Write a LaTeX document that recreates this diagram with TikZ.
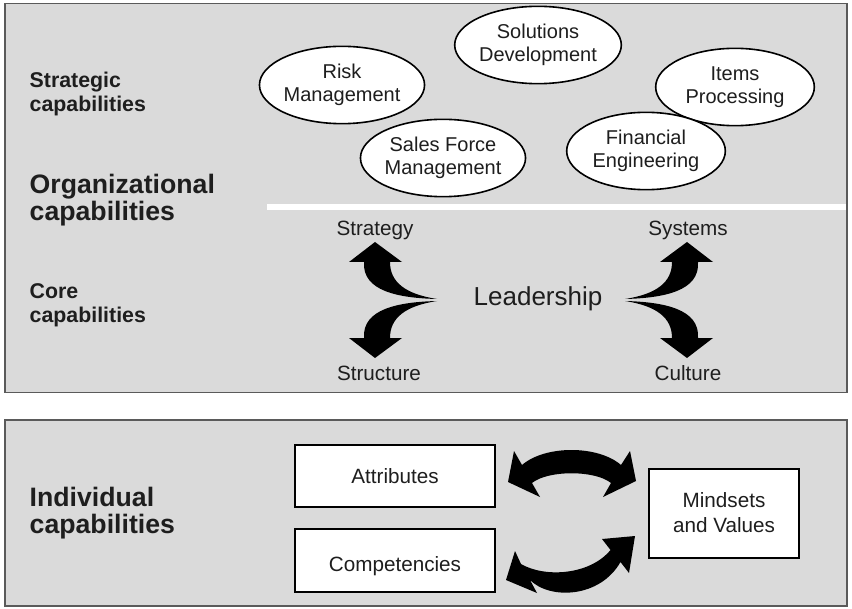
\documentclass[tikz,border=0pt]{standalone}
\usepackage{fontspec}
\setmainfont{Liberation Sans}
\usetikzlibrary{shapes.geometric,arrows.meta}
\definecolor{panel}{HTML}{DADADA}
\definecolor{panelline}{HTML}{5A5A5A}
\definecolor{ink}{HTML}{1E1E1E}
\begin{document}
\begin{tikzpicture}[x=0.75pt,y=-0.75pt,
  panelbox/.style={draw=panelline, line width=1.3pt, fill=panel, rectangle, inner sep=0pt},
  capell/.style={ellipse, draw=black, line width=1.2pt, fill=white, inner sep=0pt,
    minimum width=119pt, minimum height=58pt, align=center, text=ink,
    font=\fontsize{15}{17.25}\selectfont},
  whitebox/.style={rectangle, draw=black, line width=1.5pt, fill=white, inner sep=0pt,
    align=center, text=ink, font=\fontsize{15.5}{18.75}\selectfont},
  boxtext/.style={text=ink, font=\fontsize{15.5}{18.75}\selectfont},
  sidesmall/.style={anchor=west, align=left, text=ink,
    font=\bfseries\fontsize{16}{18}\selectfont},
  sidebig/.style={anchor=west, align=left, text=ink,
    font=\bfseries\fontsize{20}{20}\selectfont},
  corelabel/.style={text=ink, font=\fontsize{15.5}{18}\selectfont},
  bentarrow/.style={fill=black, draw=none}
]
\useasboundingbox (0,0) rectangle (852,609);
\fill[white] (0,0) rectangle (852,609);

% panels
\node[panelbox, minimum width=631.5pt, minimum height=291.75pt] (orgpanel) at (426,198) {};
\node[panelbox, minimum width=631.5pt, minimum height=139.5pt] (indpanel) at (426,513) {};

% divider
\coordinate (divL) at (267,207);
\coordinate (divR) at (846,207);
\draw[white, line width=5.2pt] (divL) -- (divR);

% left labels
\node[sidesmall] (strat) at (25,94) {Strategic\\capabilities};
\node[sidebig] (orgcap) at (25,200) {Organizational\\capabilities};
\node[sidesmall] (corecap) at (25,305) {Core\\capabilities};
\node[sidebig] (indcap) at (25,513) {Individual\\capabilities};

% strategic capability ellipses
\node[capell] (risk) at (342,85) {Risk\\Management};
\node[capell] (sol) at (538,45) {Solutions\\Development};
\node[capell] (items) at (735,87) {Items\\Processing};
\node[capell] (sales) at (443,158) {Sales Force\\Management};
\node[capell] (fin) at (646,151) {Financial\\Engineering};

% core capabilities
\node[corelabel] (strategy) at (375,230) {Strategy};
\node[corelabel] (structure) at (379,373) {Structure};
\node[corelabel] (systems) at (688,230) {Systems};
\node[corelabel] (culture) at (688,373) {Culture};
\node[text=ink, font=\fontsize{19.5}{22}\selectfont] (lead) at (538,299) {Leadership};

\def\bentpath{(364,262) -- (349,262) -- (375,242) -- (402,262) -- (390,262)
  .. controls (390,282) and (405,294) .. (437,299)
  .. controls (398,298) and (362,291) .. (364,262) -- cycle}
\fill[bentarrow] \bentpath;
\begin{scope}[shift={(0,600)}, yscale=-1]
  \fill[bentarrow] \bentpath;
\end{scope}
\begin{scope}[shift={(1062,0)}, xscale=-1]
  \fill[bentarrow] \bentpath;
\end{scope}
\begin{scope}[shift={(1062,600)}, xscale=-1, yscale=-1]
  \fill[bentarrow] \bentpath;
\end{scope}

% individual capabilities
\node[whitebox, minimum width=150pt, minimum height=46.5pt] (attr) at (395,476) {Attributes};
\node[whitebox, minimum width=150pt, minimum height=47.25pt] (comp) at (395,560) {};
\node[boxtext] (comptext) at (395,566) {Competencies};
\node[whitebox, minimum width=112pt, minimum height=66.75pt] (mind) at (724,513) {Mindsets\\and Values};

% swap arrows
\fill[bentarrow] (508,482) -- (514,451) -- (522,465)
  .. controls (545,445) and (598,445) .. (621,465)
  -- (630,451) -- (636,481) -- (603,497) -- (611,483)
  .. controls (595,470) and (548,470) .. (532,483)
  -- (540,497) -- cycle;
\fill[bentarrow] (506,580) -- (515,551) -- (521,564)
  .. controls (545,578) and (590,575) .. (610.5,550)
  -- (602,539) -- (635,536) -- (629,573) -- (620.5,562)
  .. controls (600,598) and (550,600) .. (530,580)
  -- (537,593) -- cycle;
\end{tikzpicture}
\end{document}
